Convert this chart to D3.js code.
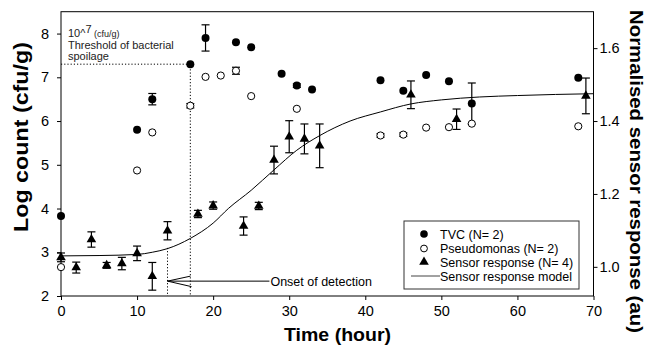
<!DOCTYPE html>
<html>
<head>
<meta charset="utf-8">
<script src="https://cdn.jsdelivr.net/npm/d3@7"></script>
<style>
  body { margin: 0; background: #fff; }
  svg { display: block; font-family: "Liberation Sans", Arial, sans-serif; }
  .axis path, .axis line { stroke: #000; }
  .axis text { font-size: 14.5px; fill: #000; }
</style>
</head>
<body>
<div id="chart"></div>
<script>
// TVC (log cfu/g, left axis)
const tvcTime = [0, 10, 12, 17, 19, 23, 25, 29, 31, 33, 42, 45, 48, 51, 54, 68];
const tvcValue = [3.83, 5.8, 6.5, 7.3, 7.9, 7.8, 7.69, 7.08, 6.81, 6.72, 6.93, 6.69, 7.05, 6.91, 6.4, 6.99];
const tvcErr = [0, 0, 0.13, 0, 0.3, 0, 0, 0, 0.04, 0, 0, 0, 0, 0, 0.47, 0];

// Pseudomonas (log cfu/g, left axis)
const pseTime = [0, 10, 12, 17, 19, 21, 23, 25, 31, 42, 45, 48, 51, 54, 68];
const pseValue = [2.66, 4.87, 5.74, 6.35, 7.01, 7.04, 7.15, 6.57, 6.28, 5.67, 5.69, 5.85, 5.86, 5.94, 5.88];
const pseErr = [0, 0, 0, 0.05, 0, 0, 0.08, 0, 0, 0.04, 0.04, 0, 0, 0, 0];

// Sensor response (au, right axis)
const senTime = [0, 2, 4, 6, 8, 10, 12, 14, 18, 20, 24, 26, 28, 30, 32, 34, 46, 52, 69];
const senValue = [1.026, 0.998, 1.075, 1.004, 1.009, 1.037, 0.974, 1.099, 1.145, 1.168, 1.112, 1.167, 1.293, 1.357, 1.351, 1.332, 1.472, 1.405, 1.469];
const senErr = [0.012, 0.015, 0.021, 0.008, 0.017, 0.02, 0.038, 0.025, 0.01, 0.01, 0.025, 0.01, 0.038, 0.044, 0.041, 0.06, 0.038, 0.028, 0.049];

// Sensor response model (au, right axis)
const modelTime = [0, 5, 10, 12, 14, 17, 20, 22, 25, 28, 31, 34, 38, 42, 46, 50, 55, 60, 65, 70];
const modelValue = [1.03, 1.031, 1.034, 1.04, 1.05, 1.078, 1.12, 1.16, 1.21, 1.266, 1.32, 1.36, 1.40, 1.425, 1.447, 1.458, 1.466, 1.47, 1.473, 1.475];

const xTicks = [0, 10, 20, 30, 40, 50, 60, 70];
const yLeftTicks = [2, 3, 4, 5, 6, 7, 8];
const yRightTicks = [1.0, 1.2, 1.4, 1.6];

const spoilLevel = 7.3;
const spoilTime = 17;
const onsetTime = 14;
const onsetTop = 3.1;
const arrowLevel = 2.34;
const arrowEnd = 27.4;

const legendLabels = ['TVC (N= 2)', 'Pseudomonas (N= 2)', 'Sensor response (N= 4)', 'Sensor response model'];

(function() {
  let width = 646;
  let height = 346;
  let margin = { top: 11.7, right: 52.5, bottom: 50, left: 61 };

  let svg = d3.select('#chart')
    .append('svg')
    .attr('width', width)
    .attr('height', height);

  let x = d3.scaleLinear().domain([0, 70]).range([margin.left, width - margin.right]);
  let y = d3.scaleLinear().domain([2, 8.5]).range([height - margin.bottom, margin.top]);
  let y2 = d3.scaleLinear().domain([0.92, 1.70]).range([height - margin.bottom, margin.top]);

  // frame
  svg.append('rect')
    .attr('x', x(0)).attr('y', y(8.5))
    .attr('width', x(70) - x(0)).attr('height', y(2) - y(8.5))
    .attr('fill', 'none').attr('stroke', '#000');

  svg.append('g').attr('class', 'axis')
    .attr('transform', `translate(0,${y(2)})`)
    .call(d3.axisBottom(x).tickValues(xTicks).tickSizeOuter(0).tickSize(4).tickPadding(6))
    .call(g => g.select('.domain').remove());
  svg.append('g').attr('class', 'axis')
    .attr('transform', `translate(${x(0)},0)`)
    .call(d3.axisLeft(y).tickValues(yLeftTicks).tickFormat(d3.format('d')).tickSizeOuter(0).tickSize(4).tickPadding(8))
    .call(g => g.select('.domain').remove());
  svg.append('g').attr('class', 'axis')
    .attr('transform', `translate(${x(70)},0)`)
    .call(d3.axisRight(y2).tickValues(yRightTicks).tickFormat(d3.format('.1f')).tickSizeOuter(0).tickSize(4).tickPadding(2))
    .call(g => g.select('.domain').remove());

  // axis titles
  svg.append('text')
    .attr('x', 337.5).attr('y', 341)
    .attr('text-anchor', 'middle')
    .attr('font-size', 18).attr('font-weight', 'bold')
    .attr('textLength', 107).attr('lengthAdjust', 'spacingAndGlyphs')
    .text('Time (hour)');
  svg.append('text')
    .attr('transform', 'translate(27.5,137) rotate(-90)')
    .attr('text-anchor', 'middle')
    .attr('font-size', 19.5).attr('font-weight', 'bold')
    .attr('textLength', 190).attr('lengthAdjust', 'spacingAndGlyphs')
    .text('Log count (cfu/g)');
  svg.append('text')
    .attr('transform', 'translate(630,171.5) rotate(90)')
    .attr('text-anchor', 'middle')
    .attr('font-size', 18.5).attr('font-weight', 'bold')
    .attr('textLength', 323).attr('lengthAdjust', 'spacingAndGlyphs')
    .text('Normalised sensor response (au)');

  // threshold and onset guides
  let dotted = '1.2,2';
  svg.append('path')
    .attr('d', d3.line()([[x(0), y(spoilLevel)], [x(spoilTime), y(spoilLevel)], [x(spoilTime), y(2)]]))
    .attr('fill', 'none').attr('stroke', '#000').attr('stroke-dasharray', dotted);
  svg.append('line')
    .attr('x1', x(onsetTime)).attr('x2', x(onsetTime))
    .attr('y1', y(onsetTop)).attr('y2', y(2))
    .attr('stroke', '#000').attr('stroke-dasharray', dotted);

  // onset arrow
  let ax = x(onsetTime), ay = y(arrowLevel);
  svg.append('line')
    .attr('x1', ax).attr('x2', x(arrowEnd))
    .attr('y1', ay).attr('y2', ay)
    .attr('stroke', '#000');
  svg.append('path')
    .attr('d', `M${ax + 23},${ay - 5}L${ax},${ay}L${ax + 24},${ay + 5.5}`)
    .attr('fill', 'none').attr('stroke', '#000');
  svg.append('text')
    .attr('x', x(arrowEnd) + 1).attr('y', ay + 4.5)
    .attr('font-size', 12.5)
    .text('Onset of detection');

  // threshold annotation
  let note = svg.append('text').attr('x', 68).attr('y', 37).attr('font-size', 11).attr('fill', '#222');
  note.append('tspan').text('10^');
  note.append('tspan').attr('dy', -4).attr('font-size', 11).text('7');
  note.append('tspan').attr('dy', 4).attr('font-size', 9).text(' (cfu/g)');
  svg.append('text').attr('x', 68).attr('y', 48.5).attr('font-size', 11).attr('fill', '#222')
    .text('Threshold of bacterial');
  svg.append('text').attr('x', 68).attr('y', 60).attr('font-size', 11).attr('fill', '#222')
    .text('spoilage');

  // model curve
  let model = modelTime.map((t, i) => ({ t, v: modelValue[i] }));
  svg.append('path')
    .datum(model)
    .attr('fill', 'none').attr('stroke', '#000').attr('stroke-width', 1)
    .attr('d', d3.line().x(d => x(d.t)).y(d => y2(d.v)).curve(d3.curveMonotoneX));

  function errorBars(times, values, errs, scale) {
    let rows = times.map((t, i) => ({ t, v: values[i], e: errs[i] })).filter(d => d.e > 0);
    let g = svg.append('g').attr('stroke', '#000').attr('stroke-width', 1.2);
    rows.forEach(d => {
      let cx = x(d.t);
      let top = scale(d.v + d.e), bot = scale(d.v - d.e);
      g.append('line').attr('x1', cx).attr('x2', cx).attr('y1', top).attr('y2', bot);
      g.append('line').attr('x1', cx - 4).attr('x2', cx + 4).attr('y1', top).attr('y2', top);
      g.append('line').attr('x1', cx - 4).attr('x2', cx + 4).attr('y1', bot).attr('y2', bot);
    });
  }

  errorBars(senTime, senValue, senErr, y2);
  errorBars(pseTime, pseValue, pseErr, y);
  errorBars(tvcTime, tvcValue, tvcErr, y);

  let tri = d3.symbol().type(d3.symbolTriangle).size(40);

  svg.append('g').selectAll('path')
    .data(senTime.map((t, i) => ({ t, v: senValue[i] })))
    .join('path')
    .attr('transform', d => `translate(${x(d.t)},${y2(d.v)})`)
    .attr('d', tri)
    .attr('fill', '#000');

  svg.append('g').selectAll('circle')
    .data(pseTime.map((t, i) => ({ t, v: pseValue[i] })))
    .join('circle')
    .attr('cx', d => x(d.t)).attr('cy', d => y(d.v))
    .attr('r', 3.6)
    .attr('fill', '#fff').attr('stroke', '#000').attr('stroke-width', 1);

  svg.append('g').selectAll('circle')
    .data(tvcTime.map((t, i) => ({ t, v: tvcValue[i] })))
    .join('circle')
    .attr('cx', d => x(d.t)).attr('cy', d => y(d.v))
    .attr('r', 4)
    .attr('fill', '#000');

  // legend
  let lg = svg.append('g').attr('transform', 'translate(404,221)');
  lg.append('rect').attr('width', 175).attr('height', 68)
    .attr('fill', '#fff').attr('stroke', '#333');
  let rowY = [13, 27.5, 41, 55];
  lg.append('circle').attr('cx', 20).attr('cy', rowY[0]).attr('r', 3.8).attr('fill', '#000');
  lg.append('circle').attr('cx', 20).attr('cy', rowY[1]).attr('r', 3.4)
    .attr('fill', '#fff').attr('stroke', '#000');
  lg.append('path').attr('transform', `translate(20,${rowY[2]})`).attr('d', tri).attr('fill', '#000');
  lg.append('line').attr('x1', 7).attr('x2', 36).attr('y1', rowY[3]).attr('y2', rowY[3])
    .attr('stroke', '#444');
  lg.selectAll('text.lab')
    .data(legendLabels)
    .join('text')
    .attr('class', 'lab')
    .attr('x', 36).attr('y', (d, i) => rowY[i] + 4.5)
    .attr('font-size', 12.5)
    .text(d => d);
})();
</script>
</body>
</html>
